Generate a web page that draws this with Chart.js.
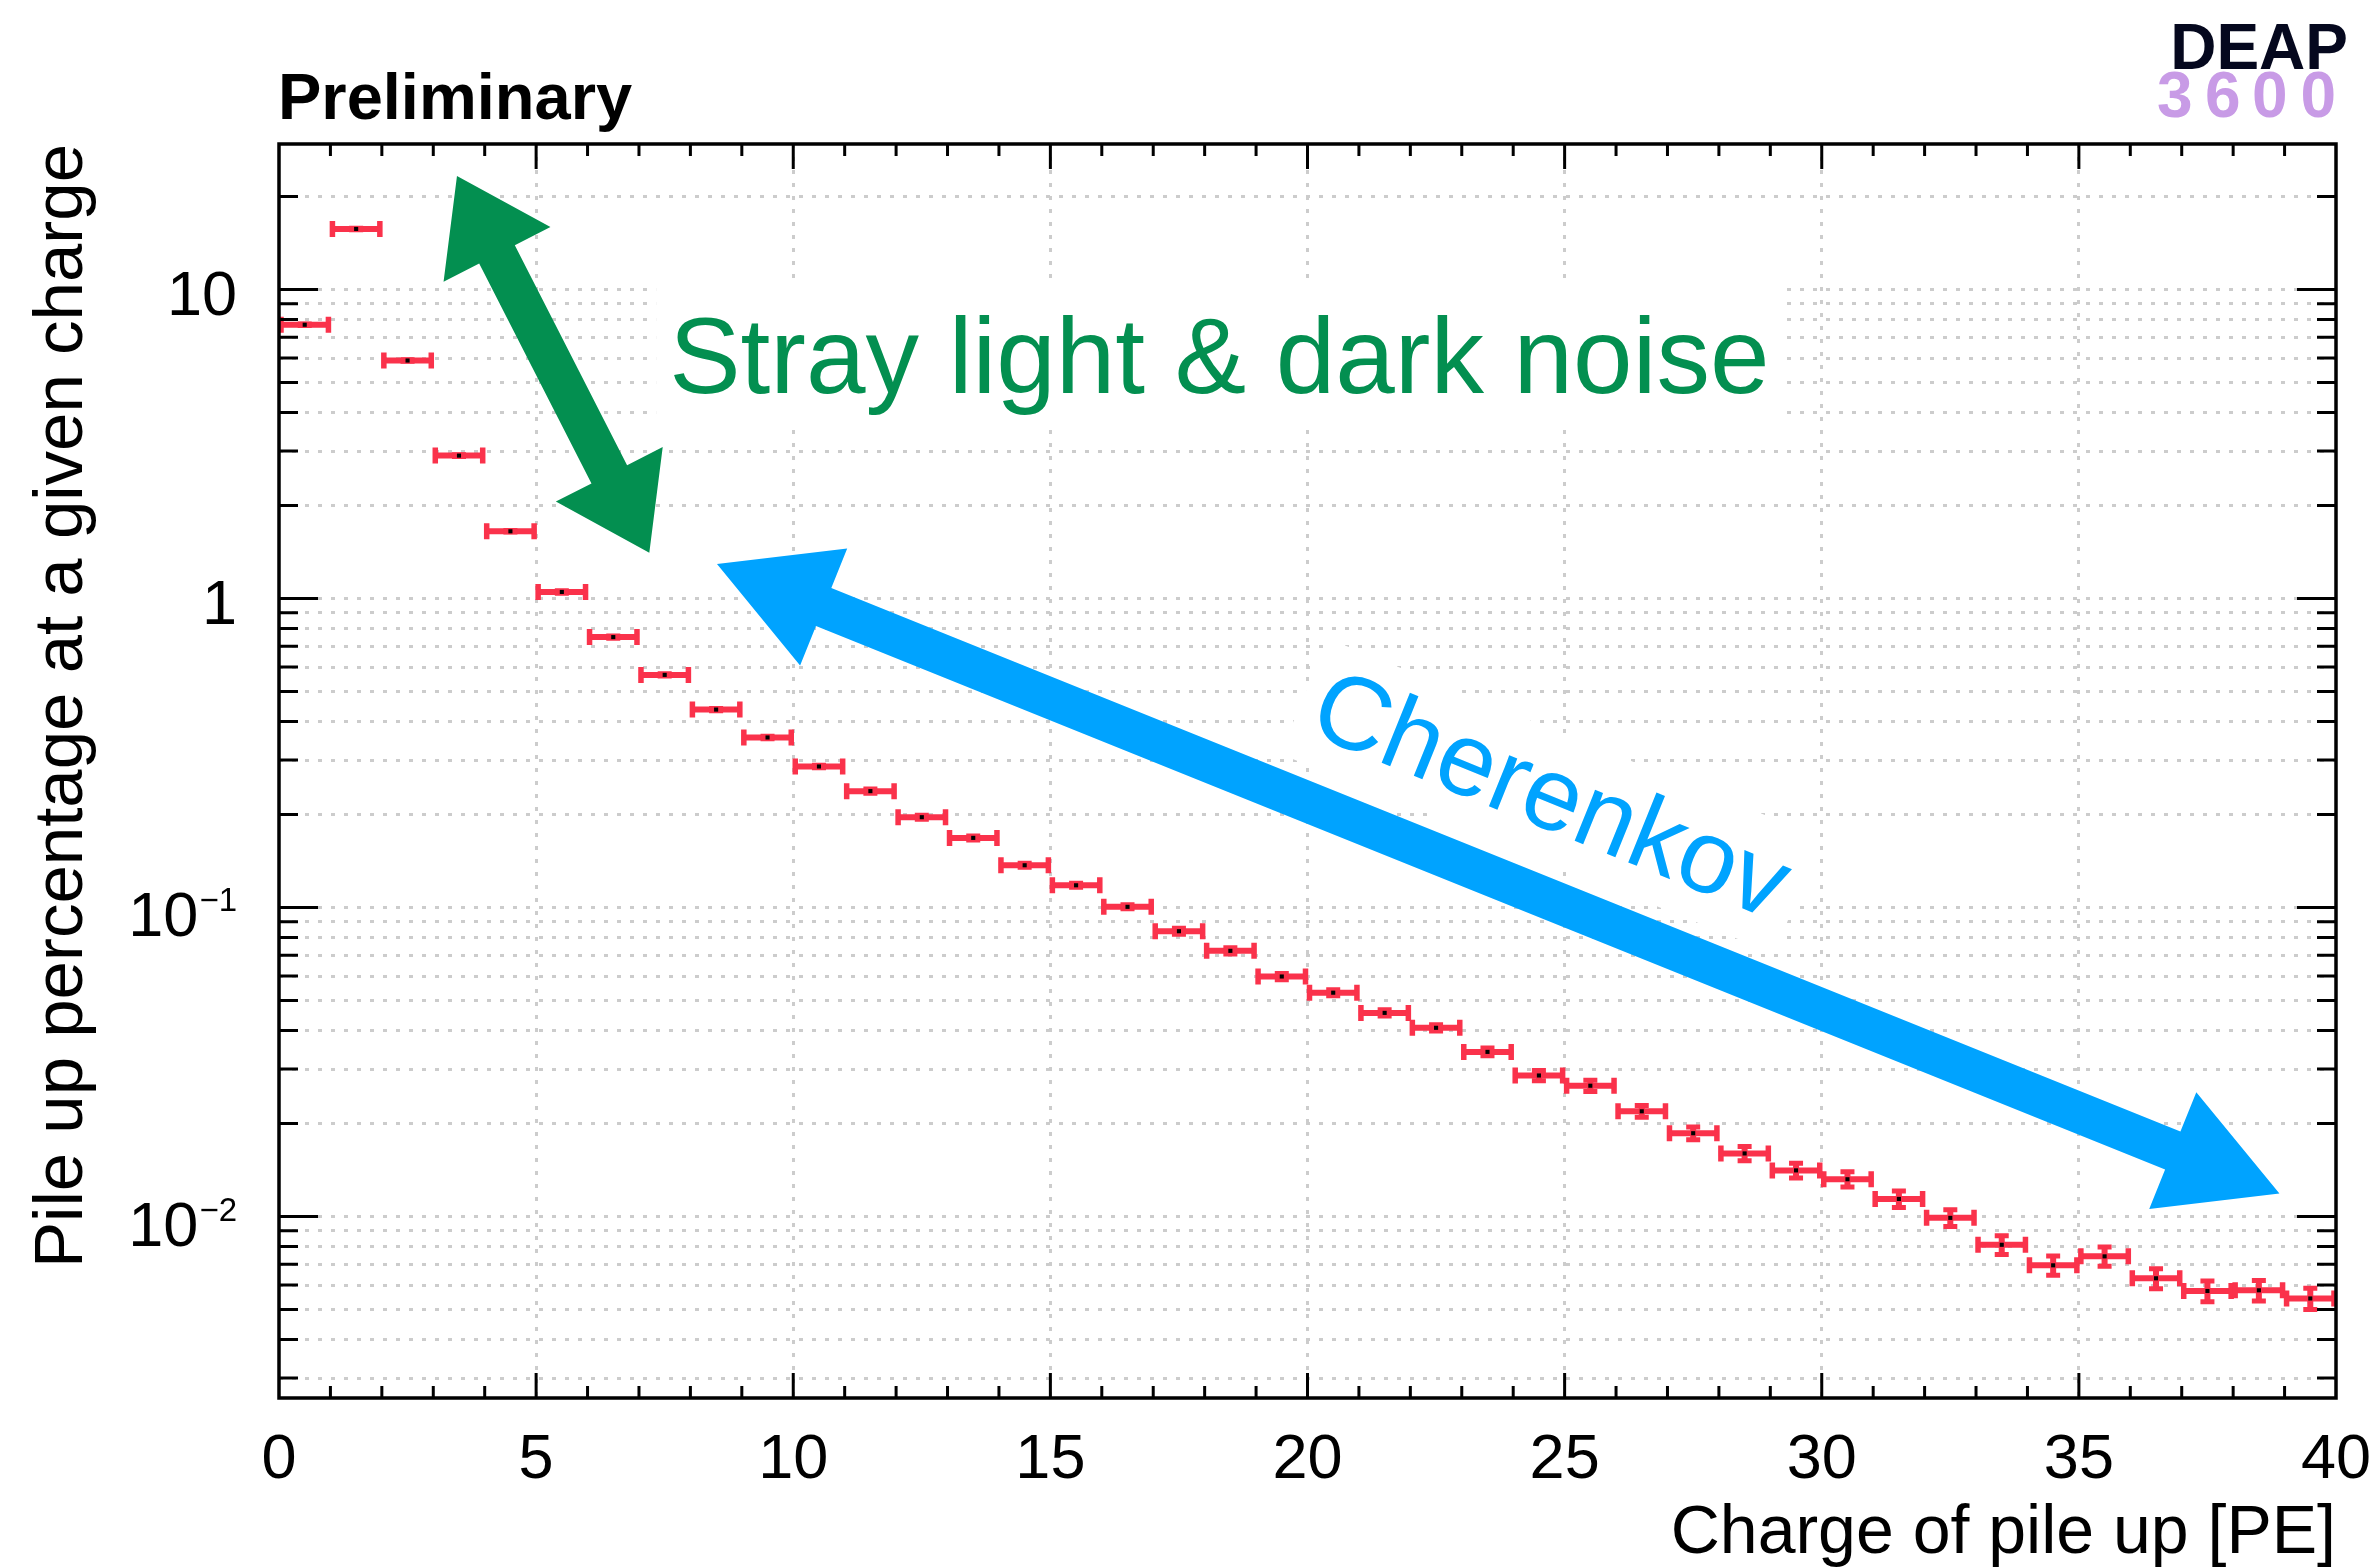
<!DOCTYPE html>
<html><head><meta charset="utf-8">
<script src="https://cdn.jsdelivr.net/npm/chart.js@4/dist/chart.umd.min.js"></script>
<style>html,body{margin:0;padding:0;background:#fff;overflow:hidden}canvas{display:block}</style>
</head><body>
<canvas id="c" width="2378" height="1567"></canvas>
<script>
// ---------------- data ----------------
const binLow  = [0,1,2,3,4,5,6,7,8,9,10,11,12,13,14,15,16,17,18,19,20,21,22,23,24,25,26,27,28,29,30,31,32,33,34,35,36,37,38,39];
const binHigh = [1,2,3,4,5,6,7,8,9,10,11,12,13,14,15,16,17,18,19,20,21,22,23,24,25,26,27,28,29,30,31,32,33,34,35,36,37,38,39,40];
const pileUpPercent = [7.69, 15.7, 5.89, 2.90, 1.65, 1.05, 0.750, 0.566, 0.437, 0.355,
  0.286, 0.238, 0.196, 0.168, 0.137, 0.118, 0.1005, 0.0838, 0.0724, 0.0598,
  0.0530, 0.0456, 0.0408, 0.0341, 0.0286, 0.0265, 0.0219, 0.0186, 0.0160, 0.0141,
  0.0132, 0.0114, 0.0099, 0.0081, 0.00695, 0.00743, 0.00631, 0.00574, 0.00577, 0.00543];
const pileUpError = [0.046, 0.094, 0.035, 0.017, 0.010, 0.0095, 0.0068, 0.0051, 0.0039, 0.0032,
  0.0026, 0.0036, 0.0029, 0.0025, 0.0021, 0.0018, 0.0015, 0.0019, 0.0017, 0.0014,
  0.0012, 0.00105, 0.00094, 0.0010, 0.00109, 0.00111, 0.00096, 0.00089, 0.00086, 0.00078,
  0.00075, 0.00070, 0.00062, 0.00056, 0.00050, 0.00053, 0.00047, 0.00044, 0.00044, 0.00043];

const xMajorValues = [0,5,10,15,20,25,30,35,40];
const xTickLabels  = ["0","5","10","15","20","25","30","35","40"];
const xMinorValues = [0,1,2,3,4,5,6,7,8,9,10,11,12,13,14,15,16,17,18,19,20,21,22,23,24,25,26,27,28,29,30,31,32,33,34,35,36,37,38,39,40];
const yMajorValues = [10, 1, 0.1, 0.01];
const yTickBase    = ["10", "1", "10", "10"];
const yTickExp     = ["", "", "\u22121", "\u22122"];
const yMinorValues = [0.003,0.004,0.005,0.006,0.007,0.008,0.009,
  0.01,0.02,0.03,0.04,0.05,0.06,0.07,0.08,0.09,
  0.1,0.2,0.3,0.4,0.5,0.6,0.7,0.8,0.9,
  1,2,3,4,5,6,7,8,9,10,20];
const xRange = [0, 40];
const yRange = [0.002586, 29.57];

const xTitle = "Charge of pile up [PE]";
const yTitle = "Pile up percentage at a given charge";
const topLabel = "Preliminary";
const logoTop = "DEAP";
const logoBottom = ["3","6","0","0"];
const strayText = "Stray light & dark noise";
const cherenkovText = "Cherenkov";

// annotation anchors in data coordinates (x in PE, y in %)
const greenArrow = {from:[3.461, 23.29], to:[7.201, 1.407]};
const blueArrow  = {from:[8.517, 1.293], to:[38.90, 0.011862]};
const strayAnchor = [7.587, 4.634];
const cherenkovAnchor = [19.96, 0.370];

// ---------------- style ----------------
const FONT = '"Liberation Sans", Arial, Helvetica, sans-serif';
const f = (s, b) => (b ? 'bold ' : '') + s + 'px ' + FONT;
const RED = '#fa324b', GREEN = '#038f50', BLUE = '#00a3ff', GRID = '#cccccc';
const PAD = {left: 0, top: 144, right: 42, bottom: 0};
const Y_AXIS_W = 279, X_AXIS_H = 169;

function arrow(ctx, ax, ay, bx, by, shaft, hl, hw, color) {
  const dx = bx - ax, dy = by - ay, L = Math.hypot(dx, dy);
  const ux = dx / L, uy = dy / L, nx = -uy, ny = ux;
  const P = (t, s) => [ax + ux * t + nx * s, ay + uy * t + ny * s];
  const pts = [P(0,0), P(hl, hw/2), P(hl, shaft/2), P(L-hl, shaft/2), P(L-hl, hw/2), P(L,0),
               P(L-hl, -hw/2), P(L-hl, -shaft/2), P(hl, -shaft/2), P(hl, -hw/2)];
  ctx.beginPath(); ctx.moveTo(pts[0][0], pts[0][1]);
  for (let i = 1; i < pts.length; i++) ctx.lineTo(pts[i][0], pts[i][1]);
  ctx.closePath(); ctx.fillStyle = color; ctx.fill();
}

const decor = {
  id: 'decor',
  beforeDatasetsDraw(chart) {
    const {ctx, scales: {x, y}} = chart;
    ctx.save();
    ctx.strokeStyle = RED; ctx.lineCap = 'butt';
    for (let i = 0; i < pileUpPercent.length; i++) {
      const v = pileUpPercent[i], e = pileUpError[i];
      const x0 = x.getPixelForValue(binLow[i]), x1 = x.getPixelForValue(binHigh[i]);
      const xc = x.getPixelForValue((binLow[i] + binHigh[i]) / 2);
      const yc = y.getPixelForValue(v), yhi = y.getPixelForValue(v + e), ylo = y.getPixelForValue(v - e);
      ctx.lineWidth = 6;
      ctx.beginPath();
      ctx.moveTo(x0, yc); ctx.lineTo(x1, yc);
      ctx.moveTo(xc, yhi - 1); ctx.lineTo(xc, ylo + 1);
      ctx.stroke();
      ctx.lineWidth = 5.5;
      ctx.beginPath();
      ctx.moveTo(x0 + 2, yc - 8); ctx.lineTo(x0 + 2, yc + 8);
      ctx.moveTo(x1 - 2, yc - 8); ctx.lineTo(x1 - 2, yc + 8);
      ctx.stroke();
      ctx.lineWidth = 5;
      ctx.beginPath();
      ctx.moveTo(xc - 7, yhi); ctx.lineTo(xc + 7, yhi);
      ctx.moveTo(xc - 7, ylo); ctx.lineTo(xc + 7, ylo);
      ctx.stroke();
    }
    ctx.restore();
  },
  afterDraw(chart) {
    const {ctx, chartArea: a, scales: {x, y}} = chart;
    ctx.save();
    // frame
    ctx.strokeStyle = '#000'; ctx.lineWidth = 3.5;
    ctx.strokeRect(a.left, a.top, a.right - a.left, a.bottom - a.top);
    // ticks
    ctx.lineWidth = 3; ctx.beginPath();
    for (const v of yMinorValues) {
      const py = y.getPixelForValue(v);
      const len = yMajorValues.includes(v) ? 39 : 19;
      ctx.moveTo(a.left, py); ctx.lineTo(a.left + len, py);
      ctx.moveTo(a.right, py); ctx.lineTo(a.right - len, py);
    }
    for (const v of xMinorValues) {
      if (v === xRange[0] || v === xRange[1]) continue;
      const px = x.getPixelForValue(v);
      const len = xMajorValues.includes(v) ? 25 : 12;
      ctx.moveTo(px, a.bottom); ctx.lineTo(px, a.bottom - len);
      ctx.moveTo(px, a.top); ctx.lineTo(px, a.top + len);
    }
    ctx.stroke();
    // x tick labels
    ctx.fillStyle = '#000'; ctx.font = f(63); ctx.textAlign = 'center'; ctx.textBaseline = 'alphabetic';
    xMajorValues.forEach((v, i) => ctx.fillText(xTickLabels[i], x.getPixelForValue(v), 1478));
    // y tick labels
    yMajorValues.forEach((v, i) => {
      const py = y.getPixelForValue(v);
      const right = 237;
      if (yTickExp[i]) {
        ctx.font = f(33); ctx.textAlign = 'right';
        const ws = ctx.measureText(yTickExp[i]).width;
        ctx.fillText(yTickExp[i], right, py + 4);
        ctx.font = f(63);
        ctx.fillText(yTickBase[i], right - ws - 1, py + 29);
      } else {
        ctx.font = f(63); ctx.textAlign = 'right';
        ctx.fillText(yTickBase[i], right, py + 26);
      }
    });
    // axis titles
    ctx.font = f(68); ctx.textAlign = 'right';
    ctx.fillText(xTitle, a.right, 1553);
    ctx.save(); ctx.translate(82, a.top); ctx.rotate(-Math.PI / 2);
    ctx.font = f(69); ctx.textAlign = 'right'; ctx.fillText(yTitle, 0, 0); ctx.restore();
    // header texts
    ctx.textAlign = 'left'; ctx.font = f(65, true); ctx.fillStyle = '#000';
    ctx.fillText(topLabel, 278, 119);
    ctx.textAlign = 'right'; ctx.font = f(64, true); ctx.fillStyle = '#05081e';
    ctx.fillText(logoTop, 2348, 69);
    ctx.textAlign = 'center'; ctx.fillStyle = '#c89be6';
    const logoX = [2174.7, 2222.7, 2269.7, 2318.3];
    logoBottom.forEach((c, i) => ctx.fillText(c, logoX[i], 117));
    // stray light label with white box
    const sx = x.getPixelForValue(strayAnchor[0]), sy = y.getPixelForValue(strayAnchor[1]);
    ctx.font = f(107); ctx.textAlign = 'left';
    const sw = ctx.measureText(strayText).width;
    ctx.fillStyle = '#fff';
    ctx.fillRect(sx - 13, sy - 113, sw + 30, 148);
    ctx.fillStyle = GREEN; ctx.fillText(strayText, sx, sy);
    // cherenkov label, rotated, with white box
    const cx = x.getPixelForValue(cherenkovAnchor[0]), cy = y.getPixelForValue(cherenkovAnchor[1]);
    ctx.save(); ctx.translate(cx, cy); ctx.rotate(22 * Math.PI / 180);
    ctx.font = f(104); ctx.textAlign = 'left';
    const cw = ctx.measureText(cherenkovText).width;
    ctx.fillStyle = '#fff'; ctx.fillRect(-15, -95, cw + 30, 125);
    ctx.fillStyle = BLUE; ctx.fillText(cherenkovText, 0, 0);
    ctx.restore();
    // arrows
    arrow(ctx, x.getPixelForValue(greenArrow.from[0]), y.getPixelForValue(greenArrow.from[1]),
          x.getPixelForValue(greenArrow.to[0]), y.getPixelForValue(greenArrow.to[1]), 40, 88, 120, GREEN);
    arrow(ctx, x.getPixelForValue(blueArrow.from[0]), y.getPixelForValue(blueArrow.from[1]),
          x.getPixelForValue(blueArrow.to[0]), y.getPixelForValue(blueArrow.to[1]), 41, 115, 126, BLUE);
    ctx.restore();
  }
};

new Chart(document.getElementById('c'), {
  type: 'scatter',
  data: {
    datasets: [{
      data: binLow.map((lo, i) => ({x: (lo + binHigh[i]) / 2, y: pileUpPercent[i]})),
      pointStyle: 'rect', pointRadius: 2.9, pointBorderWidth: 0,
      pointBackgroundColor: '#000', showLine: false
    }]
  },
  options: {
    responsive: false, animation: false, devicePixelRatio: 1,
    layout: {padding: PAD},
    plugins: {legend: {display: false}, tooltip: {enabled: false}},
    scales: {
      x: {
        type: 'linear', position: 'bottom', min: xRange[0], max: xRange[1],
        afterBuildTicks: s => { s.ticks = xMinorValues.map(v => ({value: v})); },
        afterFit: s => { s.height = X_AXIS_H; },
        ticks: {display: false},
        grid: {
          drawTicks: false, lineWidth: 3,
          color: c => (c.tick && xMajorValues.includes(c.tick.value) && c.tick.value !== xRange[0] && c.tick.value !== xRange[1]) ? GRID : 'rgba(0,0,0,0)'
        },
        border: {display: false, dash: [4, 9]}
      },
      y: {
        type: 'logarithmic', position: 'left', min: yRange[0], max: yRange[1],
        afterBuildTicks: s => { s.ticks = yMinorValues.map(v => ({value: v, major: yMajorValues.includes(v)})); },
        afterFit: s => { s.width = Y_AXIS_W; },
        ticks: {display: false},
        grid: {drawTicks: false, lineWidth: 3, color: GRID},
        border: {display: false, dash: [4, 9]}
      }
    }
  },
  plugins: [decor]
});
</script>
</body></html>
